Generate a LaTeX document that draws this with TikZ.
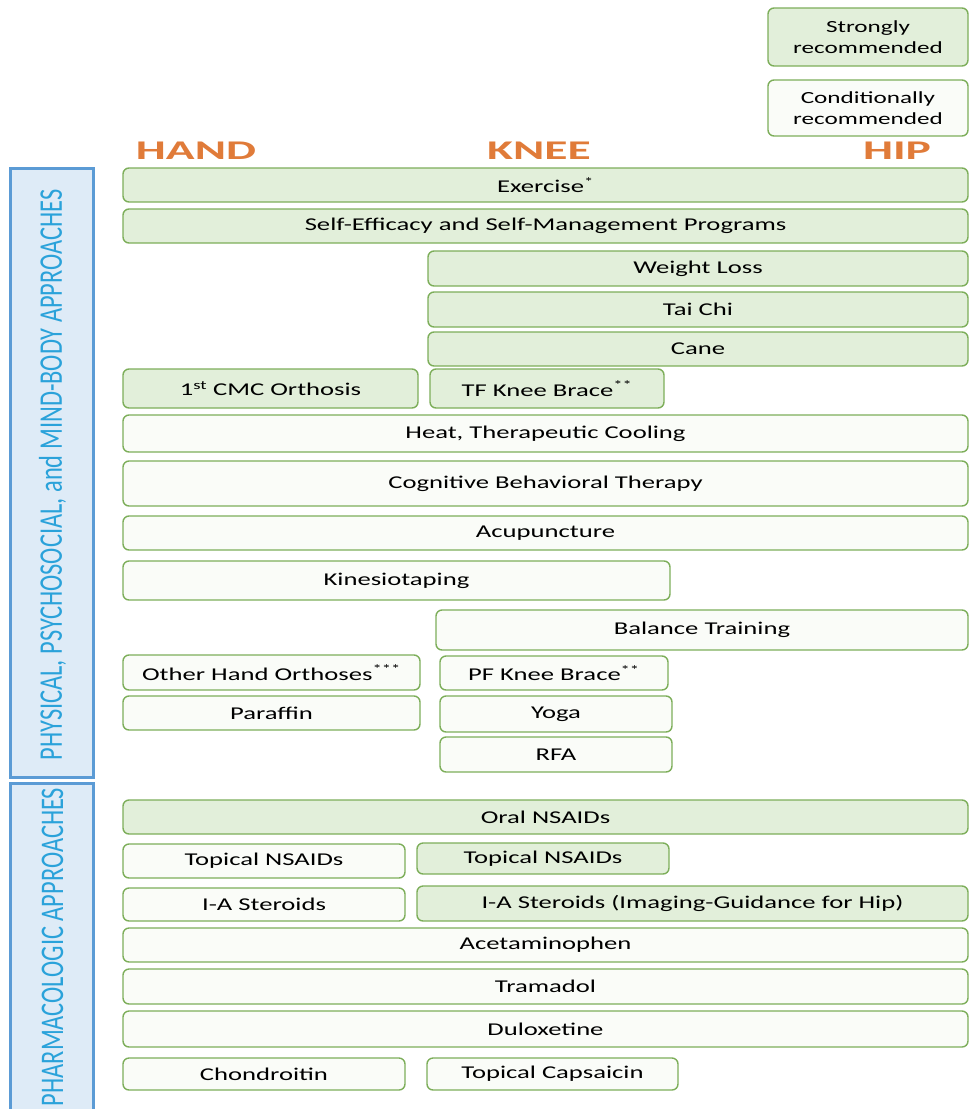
\documentclass[tikz,border=0pt]{standalone}
\usepackage{fontspec}
\setmainfont{Carlito}[FakeStretch=1.48]
\newfontfamily\headfont{Carlito}[FakeStretch=1.76]
\newfontfamily\sidefont{Carlito}[FakeStretch=0.74]
\usetikzlibrary{positioning}

\definecolor{recgreen}{HTML}{7DAE5A}
\definecolor{strongfill}{HTML}{E2EFDA}
\definecolor{condfill}{HTML}{FAFCF8}
\definecolor{headorange}{HTML}{E07B39}
\definecolor{panelblue}{HTML}{5B9BD5}
\definecolor{panelfill}{HTML}{DEEBF7}
\definecolor{sidetext}{HTML}{2AA2DA}

\begin{document}
\begin{tikzpicture}[x=1pt, y=-1pt]
    % Define styles for boxes and headings
    \tikzstyle{strongbox} = [rectangle, rounded corners=6pt, draw=recgreen, line width=1.4pt, fill=strongfill, inner sep=0pt, align=center, font=\fontsize{18}{20}\selectfont]
    \tikzstyle{condbox} = [strongbox, fill=condfill]
    \tikzstyle{jointhead} = [text=headorange, font=\headfont\bfseries\fontsize{27}{30}\selectfont, inner sep=0pt]
    \tikzstyle{panel} = [rectangle, draw=panelblue, line width=3pt, fill=panelfill, inner sep=0pt]
    \tikzstyle{panellabel} = [text=sidetext, rotate=90, font=\sidefont\fontsize{33}{36}\selectfont, inner sep=0pt]

    \useasboundingbox (0,0) rectangle (969,1109);

    % Legend
    \node (strongleg) [strongbox, minimum width=200, minimum height=58, font=\fontsize{17}{21}\selectfont] at (868,37) {Strongly\\recommended};
    \node (condleg) [condbox, minimum width=200, minimum height=56, font=\fontsize{17}{21}\selectfont] at (868,108) {Conditionally\\recommended};

    % Joint headings
    \node (hand) [jointhead] at (196,151) {HAND};
    \node (knee) [jointhead] at (539,151) {KNEE};
    \node (hip) [jointhead] at (897,151) {HIP};

    % Side panels
    \node (physpanel) [panel, minimum width=83, minimum height=609] at (51.5,472.5) {};
    \node (physlabel) [panellabel] at (52.5,475) {PHYSICAL, PSYCHOSOCIAL, and MIND-BODY APPROACHES};
    \node (pharmpanel) [panel, minimum width=83, minimum height=334] at (51.5,950) {};
    \node (pharmlabel) [panellabel] at (52.5,947) {PHARMACOLOGIC APPROACHES};

    % Physical, psychosocial and mind-body approaches
    \node (exercise) [strongbox, minimum width=845, minimum height=34] at (545.5,185) {Exercise\textsuperscript{*}};
    \node (selfeff) [strongbox, minimum width=845, minimum height=34] at (545.5,226) {Self-Efficacy and Self-Management Programs};
    \node (weightloss) [strongbox, minimum width=540, minimum height=35] at (698,268.5) {Weight Loss};
    \node (taichi) [strongbox, minimum width=540, minimum height=35] at (698,309.5) {Tai Chi};
    \node (cane) [strongbox, minimum width=540, minimum height=34] at (698,349) {Cane};
    \node (cmc) [strongbox, minimum width=295, minimum height=39] at (270.5,388.5) {1\textsuperscript{st} CMC Orthosis};
    \node (tfbrace) [strongbox, minimum width=234, minimum height=39] at (547,388.5) {TF Knee Brace\textsuperscript{**}};
    \node (heat) [condbox, minimum width=845, minimum height=37] at (545.5,433.5) {Heat, Therapeutic Cooling};
    \node (cbt) [condbox, minimum width=845, minimum height=45] at (545.5,483.5) {Cognitive Behavioral Therapy};
    \node (acupuncture) [condbox, minimum width=845, minimum height=34] at (545.5,533) {Acupuncture};
    \node (kinesio) [condbox, minimum width=547, minimum height=39] at (396.5,580.5) {Kinesiotaping};
    \node (balance) [condbox, minimum width=532, minimum height=40] at (702,630) {Balance Training};
    \node (otherhand) [condbox, minimum width=297, minimum height=35] at (271.5,672.5) {Other Hand Orthoses\textsuperscript{***}};
    \node (pfbrace) [condbox, minimum width=228, minimum height=34] at (554,673) {PF Knee Brace\textsuperscript{**}};
    \node (paraffin) [condbox, minimum width=297, minimum height=34] at (271.5,713) {Paraffin};
    \node (yoga) [condbox, minimum width=232, minimum height=36] at (556,714) {Yoga};
    \node (rfa) [condbox, minimum width=232, minimum height=35] at (556,754.5) {RFA};

    % Pharmacologic approaches
    \node (oralnsaid) [strongbox, minimum width=845, minimum height=34] at (545.5,817) {Oral NSAIDs};
    \node (topnsaidhand) [condbox, minimum width=282, minimum height=34] at (264,861) {Topical NSAIDs};
    \node (topnsaidknee) [strongbox, minimum width=252, minimum height=31] at (543,858.5) {Topical NSAIDs};
    \node (iahand) [condbox, minimum width=282, minimum height=33] at (264,904.5) {I-A Steroids};
    \node (iaknee) [strongbox, minimum width=551, minimum height=35] at (692.5,903.5) {I-A Steroids (Imaging-Guidance for Hip)};
    \node (acetaminophen) [condbox, minimum width=845, minimum height=34] at (545.5,945) {Acetaminophen};
    \node (tramadol) [condbox, minimum width=845, minimum height=35] at (545.5,986.5) {Tramadol};
    \node (duloxetine) [condbox, minimum width=845, minimum height=36] at (545.5,1029) {Duloxetine};
    \node (chondroitin) [condbox, minimum width=282, minimum height=32] at (264,1074) {Chondroitin};
    \node (capsaicin) [condbox, minimum width=251, minimum height=32] at (552.5,1074) {Topical Capsaicin};

\end{tikzpicture}
\end{document}
